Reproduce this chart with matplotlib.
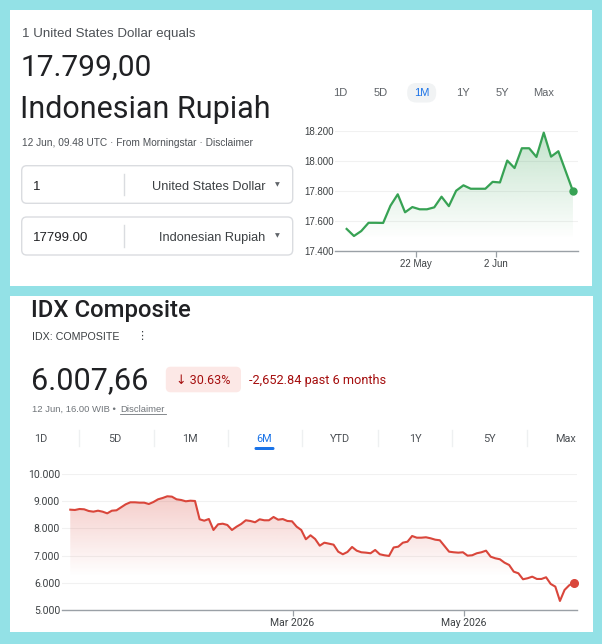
import numpy as np
import pandas as pd
import matplotlib
matplotlib.use("Agg")
import matplotlib.pyplot as plt
import matplotlib.dates as mdates
from matplotlib.patches import FancyBboxPatch, Rectangle, Polygon
from matplotlib.colors import to_rgb

# ---------------- data ----------------
usd_idr_dates = list(pd.date_range("2026-05-12 12:00", "2026-06-10 12:00", freq="D")) + [pd.Timestamp("2026-06-12 12:00")]
usd_idr_values = [17547, 17500, 17533, 17588, 17588, 17587, 17702, 17778, 17658, 17693,
                  17678, 17678, 17691, 17762, 17699, 17802, 17838, 17815, 17815, 17815,
                  17861, 17857, 18003, 17953, 18085, 18085, 18027, 18189, 18029, 18065,
                  17799]
usd_y_ticks = [17400, 17600, 17800, 18000, 18200]
usd_x_ticks = ["2026-05-22", "2026-06-02"]
usd_x_labels = ["22 May", "2 Jun"]
usd_tabs = ["1D", "5D", "1M", "1Y", "5Y", "Max"]

idx_values = [8683, 8672, 8708, 8697, 8635, 8610, 8646, 8610, 8549, 8646,
              8660, 8770, 8880, 8953, 8953, 8940, 8940, 8891, 8964, 9063,
              9111, 9173, 9160, 9063, 9038, 8990, 9012, 9001, 8331, 8280,
              8342, 7940, 8148, 8170, 8123, 7940, 8061, 8160, 8295, 8269,
              8222, 8331, 8295, 8295, 8416, 8317, 8340, 8269, 8258, 8061,
              7940, 7600, 7746, 7611, 7366, 7475, 7439, 7402, 7146, 7051,
              7135, 7318, 7183, 7124, 7110, 7088, 7208, 7051, 7014, 6990,
              7300, 7329, 7475, 7512, 7720, 7658, 7658, 7673, 7636, 7585,
              7563, 7355, 7146, 7124, 7110, 7124, 7000, 7014, 7088, 7124,
              7183, 6963, 6904, 6868, 6744, 6659, 6414, 6355, 6136, 6173,
              6231, 6147, 6147, 6209, 5964, 5866, 5342, 5745, 5915, 6008]
idx_dates = pd.date_range("2025-12-12", "2026-06-09", periods=len(idx_values))
idx_y_ticks = [5000, 6000, 7000, 8000, 9000, 10000]
idx_x_ticks = ["2026-03-01", "2026-05-01"]
idx_x_labels = ["Mar 2026", "May 2026"]
idx_tabs = ["1D", "5D", "1M", "6M", "YTD", "1Y", "5Y", "Max"]

# ---------------- figure ----------------
W, H = 602, 644
fig = plt.figure(figsize=(W / 100, H / 100), dpi=100)
fig.patch.set_facecolor("#93e1e6")

ov = fig.add_axes([0, 0, 1, 1], zorder=0)
ov.set_xlim(0, W)
ov.set_ylim(H, 0)
ov.axis("off")

SANS = ["Liberation Sans", "DejaVu Sans"]
ROB = ["Roboto", "DejaVu Sans"]

def px_axes(l, t, r, b):
    return fig.add_axes([l / W, (H - b) / H, (r - l) / W, (b - t) / H], zorder=2)

def fmt(v):
    return f"{v:,.0f}".replace(",", ".")

def gradient_fill(ax, x, y, color, a_top, y_top, y_fade, y_bottom):
    verts = [(x[0], y_bottom)] + list(zip(x, y)) + [(x[-1], y_bottom)]
    poly = Polygon(verts, closed=True, facecolor="none", edgecolor="none")
    ax.add_patch(poly)
    n = 256
    img = np.zeros((n, 1, 4))
    img[..., :3] = to_rgb(color)
    img[..., 3] = np.linspace(0, a_top, n)[:, None]
    im = ax.imshow(img, aspect="auto", origin="lower",
                   extent=[x[0], x[-1], y_fade, y_top], zorder=1, interpolation="bilinear")
    im.set_clip_path(poly)

# panels
ov.add_patch(Rectangle((10, 9.5), 582, 276.5, facecolor="white", edgecolor="none"))
ov.add_patch(Rectangle((10, 296), 583, 336, facecolor="white", edgecolor="none"))

# ---------------- top panel text ----------------
ov.text(21.7, 37.3, "1 United States Dollar equals", family=SANS, fontsize=9.6, color="#4d5156", va="baseline")
ov.text(20.5, 76, "17.799,00", family=ROB, fontsize=21.5, color="#202124", va="baseline")
ov.text(20.5, 118.3, "Indonesian Rupiah", family=ROB, fontsize=22, color="#202124", va="baseline")
ov.text(21.7, 145.7, "12 Jun, 09.48 UTC · From Morningstar · Disclaimer", family=SANS, fontsize=7.3,
        color="#4d5156", va="baseline")

for (top, bot, amount, cur) in [(165.7, 203.3, "1", "United States Dollar"),
                                 (217, 255, "17799.00", "Indonesian Rupiah")]:
    ov.add_patch(FancyBboxPatch((21.7, top), 271, bot - top, boxstyle="round,pad=0,rounding_size=5",
                                facecolor="white", edgecolor="#dadce0", lw=1))
    base = (top + bot) / 2 + 5
    ov.text(33.3, base, amount, family=SANS, fontsize=9.5, color="#202124", va="baseline")
    ov.plot([124.3, 124.3], [top + 8, bot - 8], color="#dadce0", lw=1)
    ov.text(265, base, cur, family=SANS, fontsize=9.2, color="#3c4043", va="baseline", ha="right")
    ov.text(277, (top + bot) / 2, "▼", family=["DejaVu Sans"], fontsize=4.5, color="#5f6368",
            ha="center", va="center")

tab_x = [340.7, 381, 421.7, 462.7, 502.7, 543.3]
ov.add_patch(FancyBboxPatch((407.2, 83), 29, 19.5, boxstyle="round,pad=0,rounding_size=9",
                            facecolor="#f1f3f4", edgecolor="none"))
for tx, lab in zip(tab_x, usd_tabs):
    ov.text(tx, 92.5, lab, family=SANS, fontsize=8, color="#1a73e8" if lab == "1M" else "#5f6368",
            ha="center", va="center")

# ---------------- top chart ----------------
ax1 = px_axes(335, 131, 578, 251)
ax1.patch.set_alpha(0)
xd = mdates.date2num(usd_idr_dates)
green = "#37a254"
gradient_fill(ax1, xd, usd_idr_values, green, 0.3, max(usd_idr_values), 17480, 17400)
ax1.plot(xd, usd_idr_values, color=green, lw=1.6, zorder=3, clip_on=False)
ax1.plot(xd[-1], usd_idr_values[-1], "o", color=green, ms=5, zorder=4, clip_on=False)
x22 = mdates.date2num(pd.Timestamp(usd_x_ticks[0]))
ax1.set_xlim(x22 - 81 / 7.30, x22 + 162 / 7.30)
ax1.set_ylim(17400, 18200)
ax1.set_yticks(usd_y_ticks)
ax1.set_yticklabels([fmt(v) for v in usd_y_ticks], family=SANS, fontsize=7, color="#3c4043")
ax1.set_xticks(mdates.date2num([pd.Timestamp(d) for d in usd_x_ticks]))
ax1.set_xticklabels(usd_x_labels, family=SANS, fontsize=7, color="#3c4043")
ax1.tick_params(axis="y", length=0, pad=1)
ax1.tick_params(axis="x", length=4, width=0.9, color="#9aa0a6", pad=1.5)
for s in ["top", "right", "left"]:
    ax1.spines[s].set_visible(False)
ax1.spines["bottom"].set_color("#9aa0a6")
ax1.spines["bottom"].set_linewidth(1)
ax1.yaxis.grid(True, color="#f1f1f1", lw=0.8)
ax1.set_axisbelow(True)

# ---------------- bottom panel text ----------------
ov.text(31, 316.7, "IDX Composite", family=ROB, fontsize=17.2, fontweight="medium",
        color="#202124", va="baseline")
ov.text(31.9, 340, "IDX: COMPOSITE", family=SANS, fontsize=7.7, color="#3c4043", va="baseline")
ov.text(142, 335.5, "⋮", family=["DejaVu Sans"], fontsize=8, color="#3c4043", ha="center", va="center")
ov.text(31, 389.3, "6.007,66", family=ROB, fontsize=22, color="#202124", va="baseline")
ov.add_patch(FancyBboxPatch((165.8, 366.7), 75.2, 25.6, boxstyle="round,pad=0,rounding_size=5",
                            facecolor="#fce8e6", edgecolor="none"))
ov.text(203.4, 384, "↓ 30.63%", family=ROB, fontsize=9, color="#a50e0e", ha="center", va="baseline")
ov.text(248.8, 384, "-2,652.84 past 6 months", family=ROB, fontsize=9.2, color="#a50e0e", va="baseline")
ov.text(31.9, 412.3, "12 Jun, 16.00 WIB • ", family=SANS, fontsize=6.8, color="#70757a", va="baseline")
ov.text(119.8, 412.3, "Disclaimer", family=SANS, fontsize=6.8, color="#70757a", va="baseline")
ov.plot([119.8, 166.2], [414.3, 414.3], color="#70757a", lw=0.6)

itab_x = [41, 115, 190, 264, 340, 415, 489, 566]
for tx, lab in zip(itab_x, idx_tabs):
    ov.text(tx, 438.5, lab, family=ROB, fontsize=7.8, color="#1a73e8" if lab == "6M" else "#4d5156",
            ha="center", va="center")
for sx in [78.7, 153.6, 227.6, 301.7, 378, 452, 526.7]:
    ov.plot([sx, sx], [430, 446], color="#eef0f1", lw=1)
ov.add_patch(FancyBboxPatch((254.5, 447), 20, 3, boxstyle="round,pad=0,rounding_size=1.5",
                            facecolor="#1a73e8", edgecolor="none"))

# ---------------- bottom chart ----------------
ax2 = px_axes(61.5, 473.7, 576.6, 610.3)
ax2.patch.set_alpha(0)
xi = mdates.date2num(idx_dates)
red = "#d9463b"
gradient_fill(ax2, xi, idx_values, red, 0.27, max(idx_values), 6250, 5000)
ax2.plot(xi, idx_values, color=red, lw=1.5, zorder=3, clip_on=False)
ax2.plot(xi[-1], idx_values[-1], "o", color=red, ms=5.5, zorder=4, clip_on=False)
xm = mdates.date2num(pd.Timestamp(idx_x_ticks[0]))
ax2.set_xlim(xm - 231 / 2.813, xm + 284.1 / 2.813)
ax2.set_ylim(5000, 10000)
ax2.set_yticks(idx_y_ticks)
ax2.set_yticklabels([fmt(v) for v in idx_y_ticks], family=ROB, fontsize=7.5, color="#3c4043")
ax2.set_xticks(mdates.date2num([pd.Timestamp(d) for d in idx_x_ticks]))
ax2.set_xticklabels(idx_x_labels, family=ROB, fontsize=7.5, color="#3c4043")
ax2.tick_params(axis="y", length=0, pad=1)
ax2.tick_params(axis="x", length=4.5, width=0.9, color="#9aa0a6", pad=1)
for s in ["top", "right", "left"]:
    ax2.spines[s].set_visible(False)
ax2.spines["bottom"].set_color("#9aa0a6")
ax2.spines["bottom"].set_linewidth(1)
ax2.yaxis.grid(True, color="#f1f1f1", lw=0.8)
ax2.set_axisbelow(True)

fig.savefig("out.png", dpi=100, facecolor=fig.get_facecolor())
